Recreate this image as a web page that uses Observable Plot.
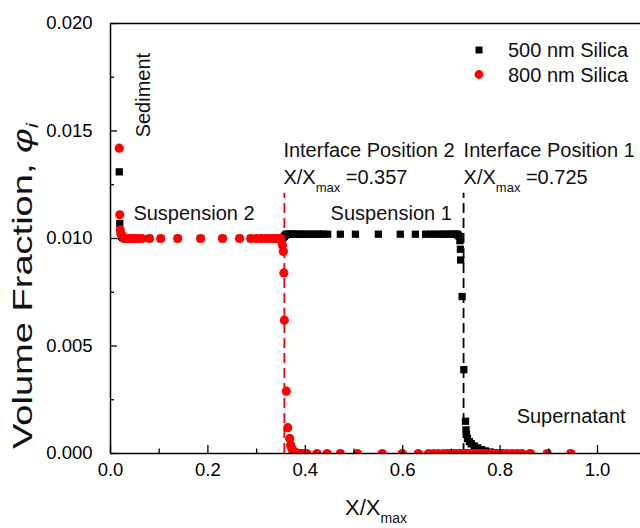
<!DOCTYPE html>
<html><head><meta charset="utf-8">
<script src="https://cdn.jsdelivr.net/npm/d3@7"></script>
<script src="https://cdn.jsdelivr.net/npm/@observablehq/plot@0.6"></script>
<style>
html,body{margin:0;padding:0;background:#fff;}
svg{font-family:"Liberation Sans",Arial,sans-serif;}
</style>
</head><body><div id="chart"></div>
<script>
// ---- data ----
const series = ["500 nm Silica", "800 nm Silica"];
const colors = ["#000000", "#ff0000"];

const x800 = [
  0.018,0.019,0.020,0.022,0.025,
  0.028,0.031,0.035,0.041,0.047,0.055,0.064,0.080,0.103,0.138,0.185,0.230,0.265,0.288,0.300,0.310,0.320,0.328,0.335,0.341,0.345,0.349,
  0.351,0.353,
  0.355,0.356,0.357,0.361,0.364,0.368,0.370,0.372,0.374,0.376,0.378,0.380,0.383,0.386,0.389,0.392,0.396,
  0.403,0.424,0.445,0.472,0.507,0.558,0.599,0.632,0.653,0.663,0.673,0.684,0.692,0.698,0.703,0.707,0.711,0.714,0.717,0.720,0.722,0.724,
  0.726,0.728,0.730,0.733,0.737,0.741,0.746,0.752,0.758,0.765,0.772,0.780,0.788,0.797,0.806,0.815,0.825,0.835,0.845,0.862,0.897,0.945
];
const phi800 = [
  0.0142,0.0111,0.0104,0.0102,0.0101,
  0.0100,0.0100,0.0100,0.0100,0.0100,0.0100,0.0100,0.0100,0.0100,0.0100,0.0100,0.0100,0.0100,0.0100,0.0100,0.0100,0.0100,0.0100,0.0100,0.0100,0.0100,0.0100,
  0.0099,0.0097,
  0.0094,0.0084,0.0062,0.0029,0.0012,0.0007,0.0004,0.00025,0.00015,0.0001,0.00006,0.00004,0.00002,0,0,0,0,
  0,0,0,0,0,0,0,0,0,0,0,0,0,0,0,0,0,0,0,0,0,0,
  0,0,0,0,0,0,0,0,0,0,0,0,0,0,0,0,0,0,0,0,0,0
];

const x500 = [
  0.018,0.019,0.020,0.022,0.025,
  0.028,0.031,0.035,0.041,0.047,0.055,0.064,0.080,0.103,0.138,0.185,0.230,0.265,0.288,0.300,0.310,0.320,0.328,0.335,0.341,0.345,0.349,
  0.351,0.353,0.355,0.357,0.359,0.361,0.364,0.368,0.372,0.376,0.380,0.385,0.390,0.396,0.402,0.408,0.414,0.420,0.426,0.432,0.437,
  0.446,0.472,0.503,0.550,0.595,0.626,0.647,0.657,0.665,0.673,0.681,0.688,0.694,0.700,0.705,0.709,0.712,
  0.714,0.716,0.7175,0.7185,0.719,0.722,0.7255,0.729,
  0.730,0.731,0.733,0.737,0.741,0.747,0.754,0.762,0.770,0.780,0.791,0.801,0.815,0.835,0.862,0.897,0.945
];
const phi500 = [
  0.0131,0.0107,0.0103,0.0101,0.01005,
  0.0100,0.0100,0.0100,0.0100,0.0100,0.0100,0.0100,0.0100,0.0100,0.0100,0.0100,0.0100,0.0100,0.0100,0.0100,0.0100,0.0100,0.0100,0.0100,0.0100,0.0100,0.0100,
  0.0100,0.0100,0.01005,0.0101,0.01015,0.0102,0.0102,0.0102,0.0102,0.0102,0.0102,0.0102,0.0102,0.0102,0.0102,0.0102,0.0102,0.0102,0.0102,0.0102,0.0102,
  0.0102,0.0102,0.0102,0.0102,0.0102,0.0102,0.0102,0.0102,0.0102,0.0102,0.0102,0.0102,0.0102,0.0102,0.0102,0.0102,0.0102,
  0.01015,0.0101,0.0099,0.0095,0.0090,0.0073,0.0039,0.0015,
  0.0011,0.0009,0.0007,0.00055,0.00045,0.00035,0.00026,0.00018,0.00012,0.00007,0.00004,0.00002,0,0,0,0,0
];

const interfaces = [0.357, 0.725];
const interfaceColors = ["#ff0000", "#000000"];
const interfaceNames = ["Interface Position 2", "Interface Position 1"];

const regionLabels = ["Suspension 2", "Suspension 1", "Supernatant"];
const regionX = [0.047, 0.452, 0.834];
const regionY = [0.01116, 0.01116, 0.00172];

const xMajor = [0, 0.2, 0.4, 0.6, 0.8, 1.0];
const xMinor = [0.1, 0.3, 0.5, 0.7, 0.9];
const yMajor = [0, 0.005, 0.010, 0.015, 0.020];
const yMinor = [0.0025, 0.0075, 0.0125, 0.0175];

// ---- tables ----
const d500 = x500.map((x, i) => ({x, y: phi500[i]}));
const d800 = x800.map((x, i) => ({x, y: phi800[i]}));

const FONT = "Liberation Sans, Arial, sans-serif";

const plot = Plot.plot({
  width: 640,
  height: 528,
  marginLeft: 110,
  marginTop: 23,
  marginBottom: 75,
  marginRight: 0,
  style: {fontFamily: FONT, fontSize: "19px", color: "black", background: "white"},
  x: {domain: [0, 1.1], range: [110, 645.7]},
  y: {domain: [0, 0.02]},
  marks: [
    // dashed interface lines
    Plot.ruleX(interfaces, {x: d => d, y1: 0, y2: 0.0121, stroke: (d, i) => interfaceColors[i], strokeDasharray: "10,5", strokeWidth: 1.8}),
    // data
    Plot.dot(d500, {x: "x", y: "y", symbol: "square", r: 4.1, fill: colors[0], stroke: "none", clip: true}),
    Plot.dot(d800, {x: "x", y: "y", r: 4.6, fill: colors[1], stroke: "none", clip: true}),
    // frame lines
    Plot.ruleX([0], {strokeWidth: 1.5}),
    Plot.ruleY([0], {strokeWidth: 1.5}),
    Plot.ruleY([0.02], {strokeWidth: 1.5}),
    // axes
    Plot.axisX(xMajor, {tickSize: 0, tickPadding: 9, tickFormat: d3.format(".1f"), fontSize: 18.5, label: null}),
    Plot.axisX(xMajor, {tickSize: -8, fill: "none", strokeWidth: 1.3, label: null}),
    Plot.axisX(xMinor, {tickSize: -4.5, fill: "none", strokeWidth: 1.3, label: null}),
    Plot.axisY(yMajor, {tickSize: 0, tickPadding: 18, tickFormat: d3.format(".3f"), fontSize: 18.5, label: null}),
    Plot.axisY(yMajor, {tickSize: -7, fill: "none", strokeWidth: 1.3, label: null}),
    Plot.axisY(yMinor, {tickSize: -4, fill: "none", strokeWidth: 1.3, label: null}),
    // annotations
    Plot.text(regionLabels, {x: regionX, y: regionY, text: d => d, textAnchor: "start", fontSize: 20, fill: "#111"}),
    Plot.text(["Sediment"], {x: [0.0678], y: [0.01667], text: d => d, rotate: -90, textAnchor: "middle", fontSize: 20, fill: "#111"}),
    Plot.text(interfaceNames, {x: [0.355, 0.725], y: [0.01409, 0.01409], text: d => d, textAnchor: "start", fontSize: 20, fill: "#111"}),
    Plot.text(interfaces, {x: [0.355, 0.725], y: [0.01284, 0.01284], text: d => "X/Xmax =" + d3.format(".3f")(d), textAnchor: "start", fontSize: 20, fill: "#111"})
  ]
});

const svg = d3.select(plot);
// subscripts in the interface annotations
svg.selectAll("text").filter(function() { return this.textContent.startsWith("X/Xmax ="); }).each(function() {
  const t = d3.select(this);
  const rest = this.textContent.slice(6);
  t.text(null);
  t.append("tspan").text("X/X");
  t.append("tspan").attr("dy", 8).attr("font-size", 13).text("max");
  t.append("tspan").attr("dy", -8).text(rest);
});

// legend
const lg = svg.append("g").attr("font-family", FONT).attr("font-size", 20).attr("fill", "#111").attr("text-anchor", "start");
lg.append("rect").attr("x", 479 - 3.5).attr("y", 50 - 3.5).attr("width", 7).attr("height", 7).attr("fill", colors[0]);
lg.append("circle").attr("cx", 479).attr("cy", 74.5).attr("r", 4.4).attr("fill", colors[1]);
lg.append("text").attr("x", 508).attr("y", 50).attr("dy", "0.35em").text(series[0]);
lg.append("text").attr("x", 508).attr("y", 74.5).attr("dy", "0.35em").text(series[1]);

// axis titles
const xt = svg.append("text").attr("x", 376).attr("y", 507).attr("dy", "0.35em").attr("text-anchor", "middle")
  .attr("font-family", FONT).attr("font-size", 22).attr("fill", "#111");
xt.append("tspan").text("X/X");
xt.append("tspan").attr("dy", 8).attr("font-size", 14).text("max");

const yt = svg.append("text").attr("transform", "translate(22,286) rotate(-90)").attr("dy", "0.35em").attr("text-anchor", "middle")
  .attr("font-family", FONT).attr("font-size", 28).attr("fill", "#111")
  .attr("textLength", 326).attr("lengthAdjust", "spacingAndGlyphs");
yt.append("tspan").text("Volume Fraction, ");
yt.append("tspan").attr("font-style", "italic").text("φ");
yt.append("tspan").attr("font-style", "italic").attr("font-size", 17).attr("dy", 6).text("i");

document.getElementById("chart").appendChild(plot);
</script>
</body></html>
